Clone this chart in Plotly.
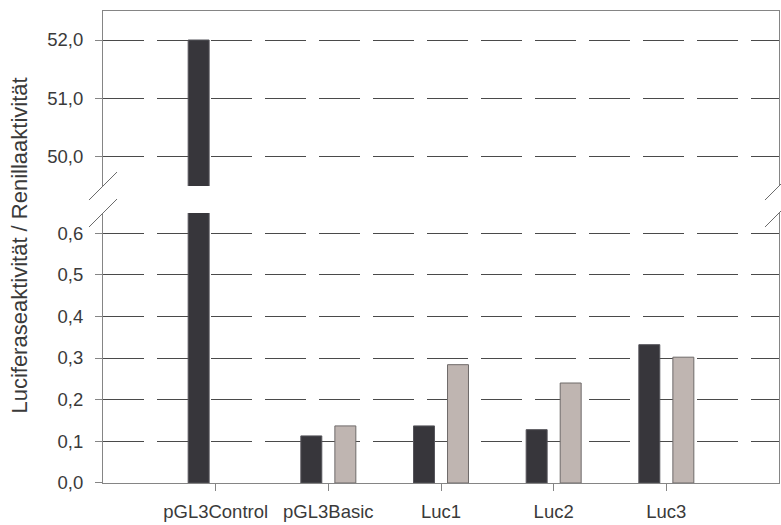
import plotly.graph_objects as go

# Reporter-assay results: firefly luciferase normalised to Renilla activity
constructs = ["pGL3Control", "pGL3Basic", "Luc1", "Luc2", "Luc3"]
series_dark = [52.0, 0.113, 0.137, 0.128, 0.332]
series_light = [None, 0.137, 0.284, 0.240, 0.302]

low_ticks = [0.0, 0.1, 0.2, 0.3, 0.4, 0.5, 0.6]
high_ticks = [50.0, 51.0, 52.0]

DARK = "#37363b"
LIGHT = "#bfb5b1"
AXIS = "#858585"
GRID = "#4a4a4a"
TEXT = "#3a3a3a"
FONT = "Liberation Sans, Arial, sans-serif"

# split value axis: lower segment for the small ratios, upper for the control
low_domain = [0.0, 0.572]
high_domain = [0.6292, 1.0]

fig = go.Figure()
for yref, xref in (("y", "x"), ("y2", "x2")):
    fig.add_trace(go.Bar(x=constructs, y=series_dark, marker=dict(color=DARK, line=dict(color="#55545a", width=1)),
                         xaxis=xref, yaxis=yref, showlegend=False))
    fig.add_trace(go.Bar(x=constructs, y=series_light, marker=dict(color=LIGHT, line=dict(color="#6e6a69", width=1)),
                         xaxis=xref, yaxis=yref, showlegend=False))

common_y = dict(showline=True, linecolor=AXIS, linewidth=1, mirror=True,
                ticks="outside", ticklen=7, tickcolor=AXIS, tickwidth=1,
                showgrid=True, gridcolor=GRID, gridwidth=1, griddash="41px,13px",
                zeroline=False, tickformat=".1f",
                tickfont=dict(family=FONT, size=18.5, color=TEXT), ticklabelstandoff=8)

fig.update_layout(
    width=781, height=525,
    margin=dict(l=103, r=2, t=11, b=42),
    paper_bgcolor="white", plot_bgcolor="white",
    separators=",.",
    barmode="group", bargap=0.396, bargroupgap=0.384,
    xaxis=dict(domain=[0, 1], range=[-1, 5], anchor="y", showline=True, linecolor=AXIS, linewidth=1,
               ticks="outside", ticklen=7, tickcolor=AXIS, tickwidth=1, showgrid=False,
               tickfont=dict(family=FONT, size=18.5, color=TEXT), ticklabelstandoff=5),
    xaxis2=dict(domain=[0, 1], range=[-1, 5], anchor="y2", side="top", showline=True, linecolor=AXIS,
                linewidth=1, showticklabels=False, ticks="", showgrid=False, matches="x"),
    yaxis=dict(domain=low_domain, range=[0, 0.648], tickvals=low_ticks, anchor="x", **common_y),
    yaxis2=dict(domain=high_domain, range=[49.483, 52.5], tickvals=high_ticks, anchor="x2", **common_y),
)

# axis-break slashes on both sides of the gap
for xpos in (0, 1):
    for ypos in (high_domain[0], low_domain[1]):
        fig.add_shape(type="line", xref="paper", yref="paper",
                      xsizemode="pixel", ysizemode="pixel", xanchor=xpos, yanchor=ypos,
                      x0=-14, x1=14, y0=-14, y1=14,
                      line=dict(color="#6a6a6a", width=1))

fig.add_annotation(text="Luciferaseaktivität / Renillaaktivität", textangle=-90,
                   xref="paper", yref="paper", x=(20 - 103) / 676, y=0.503,
                   xanchor="center", yanchor="middle", showarrow=False,
                   font=dict(family=FONT, size=22, color=TEXT))

fig.write_html("out.html")
